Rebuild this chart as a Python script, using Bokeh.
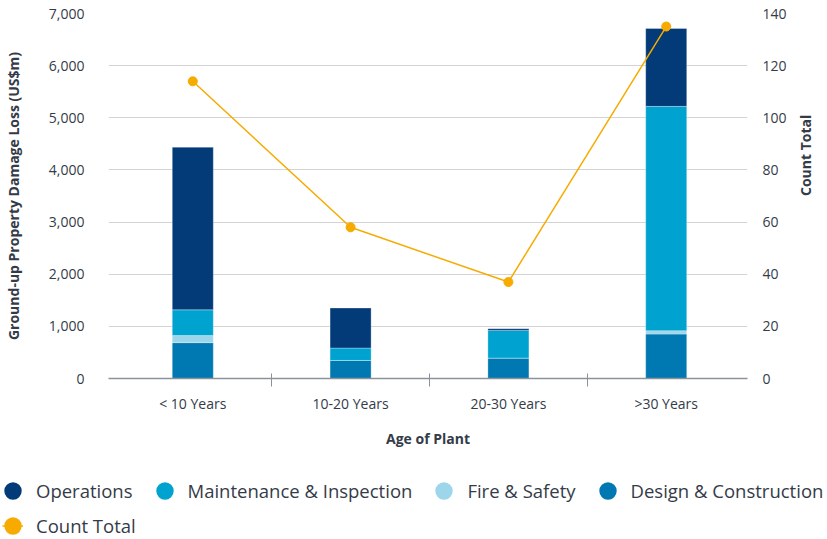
import math
from bokeh.plotting import figure
from bokeh.models import (ColumnDataSource, Range1d, LinearAxis, FixedTicker,
                          NumeralTickFormatter, Legend, LegendItem)
from bokeh.embed import file_html
from bokeh.resources import INLINE

# ---- data ----
categories = ["< 10 Years", "10-20 Years", "20-30 Years", ">30 Years"]
design = [688, 346, 392, 853]
fire = [135, 0, 0, 63]
maint = [494, 238, 530, 4303]
ops = [3119, 768, 33, 1493]
count_total = [114, 58, 37, 135]

series_keys = ["design", "fire", "maint", "ops"]
series_labels = ["Design & Construction", "Fire & Safety",
                 "Maintenance & Inspection", "Operations"]
series_colors = ["#0078b1", "#9dd6ea", "#00a3cf", "#033a78"]

loss_ticks = [0, 1000, 2000, 3000, 4000, 5000, 6000, 7000]
count_ticks = [0, 20, 40, 60, 80, 100, 120, 140]

FONT = "Open Sans"
TEXT = "#343b48"
ORANGE = "#f7ab00"
GRID = "#d4d4d4"
AXIS = "#8c929c"

x = [i + 0.5 for i in range(len(categories))]
src = ColumnDataSource(dict(x=x, design=design, fire=fire, maint=maint,
                            ops=ops, count=count_total))

p = figure(width=827, height=470,
           x_range=Range1d(-0.034, len(categories) + 0.015),
           y_range=Range1d(loss_ticks[0], loss_ticks[-1]),
           output_backend="svg", toolbar_location=None,
           min_border_left=107, min_border_right=79,
           min_border_top=13, min_border_bottom=92,
           outline_line_color=None)
p.extra_y_ranges = {"count": Range1d(count_ticks[0], count_ticks[-1])}

p.vbar_stack(series_keys, x="x", width=0.26, source=src,
             fill_color=series_colors, line_color="white",
             line_width=0.6, line_alpha=0.5)

p.line("x", "count", source=src, y_range_name="count",
       line_color=ORANGE, line_width=1.5)
p.scatter("x", "count", source=src, y_range_name="count", size=9,
          fill_color=ORANGE, line_color=ORANGE)

# ---- axes ----
xa = p.xaxis[0]
xa.ticker = FixedTicker(ticks=x, minor_ticks=list(range(1, len(categories))))
xa.major_label_overrides = {xi: c for xi, c in zip(x, categories)}
xa.major_tick_in = 0
xa.major_tick_out = 0
xa.minor_tick_in = 5
xa.minor_tick_out = 8
xa.minor_tick_line_color = AXIS
xa.axis_line_color = AXIS
xa.axis_line_width = 1.5
xa.major_label_standoff = 7
xa.axis_label = "Age of Plant"
xa.axis_label_standoff = 13

ya = p.yaxis[0]
ya.ticker = FixedTicker(ticks=loss_ticks)
ya.formatter = NumeralTickFormatter(format="0,0")
ya.axis_label = "Ground-up Property Damage Loss (US$m)"
ya.major_label_standoff = 18
ya.axis_label_standoff = 23

ra = LinearAxis(y_range_name="count", ticker=FixedTicker(ticks=count_ticks),
                axis_label="Count Total")
ra.major_label_standoff = 9
ra.axis_label_standoff = 16
if "axis_label_orientation" in ra.properties():
    ra.axis_label_orientation = math.pi / 2
p.add_layout(ra, "right")

for ax in (ya, ra):
    ax.axis_line_color = None
    ax.major_tick_line_color = None
    ax.minor_tick_line_color = None

for ax in (xa, ya, ra):
    ax.major_label_text_font = FONT
    ax.major_label_text_font_size = "14px"
    ax.major_label_text_color = TEXT
    ax.axis_label_text_font = FONT
    ax.axis_label_text_font_size = "14px"
    ax.axis_label_text_font_style = "bold"
    ax.axis_label_text_color = TEXT

p.xgrid.grid_line_color = None
p.ygrid.grid_line_color = GRID
p.ygrid.grid_line_width = 1

# ---- legend strip (separate root below the chart) ----
lg = figure(width=827, height=69, x_range=Range1d(0, 1), y_range=Range1d(0, 1),
            output_backend="svg", toolbar_location=None,
            min_border_left=0, min_border_right=0, min_border_top=0,
            min_border_bottom=0, outline_line_color=None)
lg.axis.visible = False
lg.grid.visible = False

def swatch(color):
    return lg.scatter(x=[float("nan")], y=[float("nan")], size=1,
                      marker="circle", fill_color=color,
                      line_color=color, line_width=9)

lg_line = lg.line(x=[float("nan")], y=[float("nan")], line_color=ORANGE,
                  line_width=1.5)

order = [3, 2, 1, 0]
items1 = [LegendItem(label=series_labels[i], renderers=[swatch(series_colors[i])])
          for i in order]
items2 = [LegendItem(label="Count Total", renderers=[lg_line, swatch(ORANGE)])]

def make_legend(items, loc):
    return Legend(items=items, location=loc, orientation="horizontal",
                  glyph_width=21, glyph_height=25, label_height=25,
                  label_standoff=13, spacing=21, padding=0, margin=0,
                  border_line_color=None, background_fill_alpha=0,
                  label_text_font=FONT, label_text_font_size="18.5px",
                  label_text_color=TEXT)

lg.add_layout(make_legend(items1, (2, 36.5)))
lg.add_layout(make_legend(items2, (2, 1.5)))

open("out.html", "w").write(file_html([p, lg], INLINE))
